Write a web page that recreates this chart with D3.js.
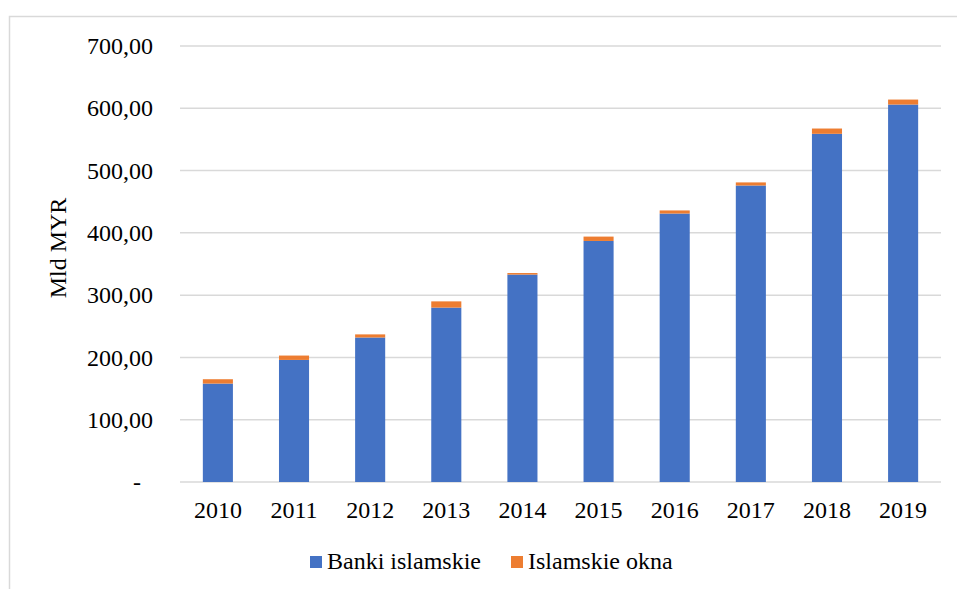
<!DOCTYPE html>
<html>
<head>
<meta charset="utf-8">
<script src="https://cdn.jsdelivr.net/npm/d3@7/dist/d3.min.js"></script>
</head>
<body style="margin:0;padding:0;background:#ffffff">
<svg id="chart" width="957" height="589" font-family="Liberation Serif" style="display:block"></svg>
<script>
// Islamic banking assets in Malaysia, bn MYR
const years = ["2010", "2011", "2012", "2013", "2014", "2015", "2016", "2017", "2018", "2019"];
const islamicBanks = [158, 196, 232, 280, 333, 387, 431, 476, 559, 606];
const islamicWindows = [7, 7, 5, 10, 2.5, 7, 5, 5, 8.5, 8];
const yTicks = [0, 100, 200, 300, 400, 500, 600, 700];
const seriesNames = ["Banki islamskie", "Islamskie okna"];
const seriesColors = ["#4472C4", "#ED7D31"];

const svg = d3.select("#chart");
const margin = { left: 180, right: 16, top: 46, bottom: 107 };
const W = 957, H = 589;

// serif text style set directly on every label
function textStyle(sel) {
  sel.attr("font-family", "Liberation Serif")
    .attr("font-size", 24)
    .style("font-family", "Liberation Serif")
    .style("font-size", "24px")
    .attr("fill", "#000");
}

// outer chart frame
svg.append("rect")
  .attr("x", 9.5).attr("y", 16.5)
  .attr("width", 960).attr("height", 600)
  .attr("fill", "none").attr("stroke", "#d9d9d9").attr("stroke-width", 1.5);

const x = d3.scaleBand().domain(years)
  .range([margin.left, W - margin.right])
  .paddingInner(0.605).paddingOuter(0.3);

const y = d3.scaleLinear().domain([0, 700])
  .range([H - margin.bottom, margin.top]);

// horizontal gridlines
svg.append("g").selectAll("line").data(yTicks).join("line")
  .attr("x1", margin.left).attr("x2", W - margin.right)
  .attr("y1", d => y(d)).attr("y2", d => y(d))
  .attr("stroke", "#d9d9d9").attr("stroke-width", 1.5);

// stacked bars
const rows = years.map((yr, i) => ({ year: yr, banks: islamicBanks[i], windows: islamicWindows[i] }));
const stack = d3.stack().keys(["banks", "windows"])(rows);

svg.append("g").selectAll("g").data(stack).join("g")
  .attr("fill", (d, i) => seriesColors[i])
  .selectAll("rect").data(d => d).join("rect")
  .attr("x", d => x(d.data.year))
  .attr("width", x.bandwidth())
  .attr("y", d => y(d[1]))
  .attr("height", d => y(d[0]) - y(d[1]));

// y axis labels
const fmt = v => v === 0 ? "-" : d3.format(".2f")(v).replace(".", ",");
const yAxis = d3.axisLeft(y).tickValues(yTicks).tickSize(0).tickPadding(0).tickFormat(fmt);
const gy = svg.append("g").attr("transform", "translate(153,0)").call(yAxis);
gy.select(".domain").remove();
gy.attr("font-family", "Liberation Serif").attr("font-size", 24);
gy.selectAll("text").call(textStyle)
  .attr("dx", d => d === 0 ? -12 : 0);

// x axis labels
const xAxis = d3.axisBottom(x).tickSize(0).tickPadding(0);
const gx = svg.append("g").attr("transform", `translate(0,${H - margin.bottom})`).call(xAxis);
gx.select(".domain").remove();
gx.attr("font-family", "Liberation Serif").attr("font-size", 24);
gx.selectAll("text").call(textStyle)
  .attr("dy", 0).attr("y", 36);

// y axis title
svg.append("text")
  .attr("transform", "translate(66,248) rotate(-90)")
  .attr("text-anchor", "middle")
  .call(textStyle)
  .text("Mld MYR");

// legend
const legendItems = [
  { name: seriesNames[0], color: seriesColors[0], x: 310 },
  { name: seriesNames[1], color: seriesColors[1], x: 511 }
];
const lg = svg.append("g").selectAll("g").data(legendItems).join("g")
  .attr("transform", d => `translate(${d.x},556)`);
lg.append("rect").attr("width", 12).attr("height", 12).attr("fill", d => d.color);
lg.append("text").attr("x", 17).attr("y", 13)
  .call(textStyle)
  .text(d => d.name);
</script>
</body>
</html>
